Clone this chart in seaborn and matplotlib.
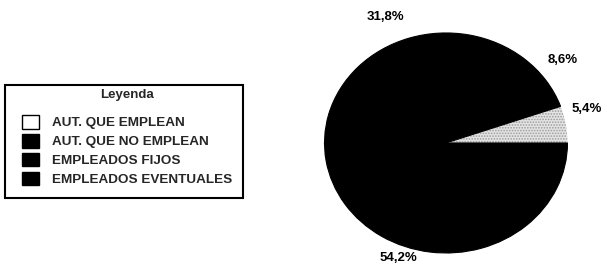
import matplotlib
matplotlib.use("Agg")
import matplotlib.pyplot as plt
from matplotlib.patches import Patch, Rectangle
import numpy as np
import seaborn as sns

# ---- data ----
categories = ["AUT. QUE EMPLEAN", "AUT. QUE NO EMPLEAN", "EMPLEADOS FIJOS", "EMPLEADOS EVENTUALES"]
values = [5.4, 8.6, 31.8, 54.2]
pct_labels = ["5,4%", "8,6%", "31,8%", "54,2%"]
legend_title = "Leyenda"

# ---- style ----
sns.set_theme(style="white")
plt.rcParams["font.family"] = ["Liberation Sans", "DejaVu Sans"]
plt.rcParams["hatch.linewidth"] = 0.8

wedge_colors = ["#e4e4e4", "#000000", "#000000", "#000000"]
legend_colors = ["#ffffff", "#000000", "#000000", "#000000"]
label_angle_shift = [5, 3, 6, -13]     # degrees, layout only
label_radius = [1.20, 1.22, 1.25, 1.12]

W, H = 607, 268
fig = plt.figure(figsize=(W / 100, H / 100), dpi=100)
fig.patch.set_facecolor("white")

ax = fig.add_axes([0.5346, 0.056, 0.4003, 0.821])
wedges, _ = ax.pie(values, colors=wedge_colors, startangle=0, counterclock=True,
                   wedgeprops=dict(linewidth=0.8, edgecolor="black"))
wedges[0].set_hatch("......")
wedges[0].set_edgecolor("#9a9a9a")
wedges[0].set_linewidth(0)
ax.set_aspect("auto")
ax.set_xlim(-1, 1)
ax.set_ylim(-1, 1)
ax.axis("off")

for w, txt, da, r in zip(wedges, pct_labels, label_angle_shift, label_radius):
    mid = np.deg2rad((w.theta1 + w.theta2) / 2 + da)
    ax.text(r * np.cos(mid), r * np.sin(mid), txt, ha="center", va="center",
            fontsize=9.5, fontweight="bold", color="black", clip_on=False)

# legend frame
fig.add_artist(Rectangle((5 / W, 1 - 198 / H), 238 / W, 113 / H, transform=fig.transFigure,
                         facecolor="white", edgecolor="black", linewidth=1.5, zorder=1))

handles = [Patch(facecolor=c, edgecolor="black", linewidth=1.0) for c in legend_colors]
leg = fig.legend(handles, categories, title=legend_title,
                 loc="upper left", bbox_to_anchor=(22 / W, 1 - 89 / H),
                 frameon=False, prop=dict(size=9.7, weight="bold"),
                 title_fontproperties=dict(size=9.5, weight="bold"),
                 handlelength=1.25, handleheight=1.2, handletextpad=0.95,
                 labelspacing=0.33, borderpad=0, borderaxespad=0)
leg.set_zorder(2)
leg._legend_box.sep = 10.0

fig.savefig("out.png", dpi=100, facecolor="white")
